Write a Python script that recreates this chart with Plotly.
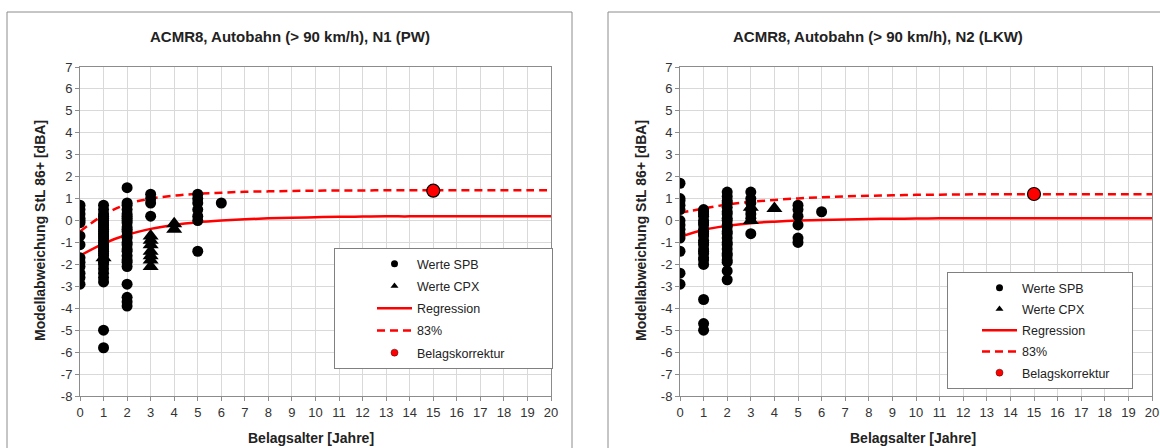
import plotly.graph_objects as go

W, H = 1160, 448

# ---------------- data ----------------
ages = list(range(0, 21))

left_spb = {
    0: [0.7, 0.5, 0.3, 0.1, 0.0, -0.1, -0.7, -1.1, -1.7, -1.9, -2.1, -2.4, -2.6, -2.9],
    1: [0.7, 0.5, 0.3, 0.2, 0.1, 0.0, -0.1, -0.2, -0.3, -0.4, -0.5, -0.6, -0.7, -0.8, -0.9, -1.0,
        -1.1, -1.2, -1.3, -1.4, -1.5, -1.6, -1.8, -1.9, -2.0, -2.2, -2.4, -2.6, -2.8, -5.0, -5.8],
    2: [1.5, 0.8, 0.7, 0.5, 0.3, 0.2, 0.1, 0.0, -0.1, -0.3, -0.4, -0.5, -0.7, -0.8, -1.0, -1.1,
        -1.3, -1.4, -1.6, -1.8, -1.9, -2.1, -2.9, -3.5, -3.7, -3.9],
    3: [1.2, 1.0, 0.8, 0.2],
    5: [1.2, 1.0, 0.8, 0.5, 0.2, 0.0, -1.4],
    6: [0.8],
}
left_cpx = {
    1: [-1.7],
    3: [-0.7, -0.9, -1.1, -1.4, -1.6, -1.8, -2.1],
    4: [-0.15, -0.4],
}
left_regression = [-1.6, -1.05, -0.65, -0.38, -0.2, -0.08, 0.0, 0.06, 0.1, 0.13, 0.15,
                   0.17, 0.18, 0.19, 0.19, 0.2, 0.2, 0.2, 0.2, 0.2, 0.2]
left_p83 = [-0.5, 0.25, 0.75, 1.0, 1.13, 1.22, 1.27, 1.31, 1.33, 1.35, 1.36,
            1.37, 1.37, 1.38, 1.38, 1.38, 1.38, 1.38, 1.38, 1.38, 1.38]
left_korr_x, left_korr_y = [15], [1.36]

right_spb = {
    0: [1.7, 1.0, 0.9, 0.7, 0.5, 0.0, -0.2, -0.4, -0.6, -0.8, -1.4, -2.4, -2.9],
    1: [0.5, 0.4, 0.3, 0.2, 0.0, -0.1, -0.2, -0.4, -0.5, -0.6, -0.7, -0.9, -1.0, -1.1, -1.3,
        -1.4, -1.5, -1.7, -1.8, -2.0, -3.6, -4.7, -5.0],
    2: [1.3, 1.1, 0.9, 0.8, 0.6, 0.4, 0.3, 0.1, 0.0, -0.2, -0.3, -0.5, -0.6, -0.8, -1.0, -1.1,
        -1.3, -1.5, -1.6, -1.8, -1.9, -2.3, -2.7],
    3: [1.3, 1.0, 0.8, 0.5, 0.3, 0.1, -0.6],
    5: [0.7, 0.5, 0.2, -0.2, -0.8, -1.0],
    6: [0.4],
}
right_cpx = {
    3: [0.6, 0.0],
    4: [0.55],
}
right_regression = [-0.75, -0.42, -0.24, -0.12, -0.05, 0.0, 0.03, 0.05, 0.07, 0.08, 0.09,
                    0.1, 0.1, 0.1, 0.1, 0.1, 0.1, 0.1, 0.1, 0.1, 0.1]
right_p83 = [0.35, 0.55, 0.73, 0.85, 0.94, 1.01, 1.06, 1.1, 1.13, 1.15, 1.17,
             1.18, 1.19, 1.2, 1.2, 1.2, 1.2, 1.2, 1.2, 1.2, 1.2]
right_korr_x, right_korr_y = [15], [1.21]

titles = ["ACMR8, Autobahn (> 90 km/h), N1 (PW)", "ACMR8, Autobahn (> 90 km/h), N2 (LKW)"]
x_title = "Belagsalter [Jahre]"
y_title = "Modellabweichung StL 86+ [dBA]"
x_ticks = list(range(0, 21))
y_ticks = list(range(-8, 8))
y_ticktext = [str(v) for v in y_ticks]
legend_names = ["Werte SPB", "Werte CPX", "Regression", "83%", "Belagskorrektur"]


def flatten(d):
    xs, ys = [], []
    for k, vals in d.items():
        for v in vals:
            xs.append(k)
            ys.append(v)
    return xs, ys


FONT = "Liberation Sans, Arial, sans-serif"
RED = "#ff0000"
DASH = "8px,5px"
fig = go.Figure()

panels = [
    dict(spb=left_spb, cpx=left_cpx, reg=left_regression, p83=left_p83,
         kx=left_korr_x, ky=left_korr_y, xa="x", ya="y", leg="legend", pad=12),
    dict(spb=right_spb, cpx=right_cpx, reg=right_regression, p83=right_p83,
         kx=right_korr_x, ky=right_korr_y, xa="x2", ya="y2", leg="legend2", pad=5),
]

for i, p in enumerate(panels):
    sx, sy = flatten(p["spb"])
    cx, cy = flatten(p["cpx"])
    common = dict(xaxis=p["xa"], yaxis=p["ya"], showlegend=False)
    fig.add_trace(go.Scatter(x=ages, y=p["reg"], mode="lines", name=legend_names[2],
                             line_shape="spline", line=dict(color=RED, width=2.5), **common))
    fig.add_trace(go.Scatter(x=ages, y=p["p83"], mode="lines", name=legend_names[3],
                             line_shape="spline", line=dict(color=RED, width=2.5, dash=DASH), **common))
    fig.add_trace(go.Scatter(x=sx, y=sy, mode="markers", name=legend_names[0],
                             marker=dict(symbol="circle", size=11, color="black"), **common))
    fig.add_trace(go.Scatter(x=cx, y=cy, mode="markers", name=legend_names[1],
                             marker=dict(symbol="triangle-up", size=14, color="black"), **common))
    fig.add_trace(go.Scatter(x=p["kx"], y=p["ky"], mode="markers", name=legend_names[4],
                             marker=dict(symbol="circle", size=13, color=RED,
                                         line=dict(color="black", width=1.2)), **common))

    # legend entries (small symbols as in the original legend)
    lc = dict(xaxis=p["xa"], yaxis=p["ya"], legend=p["leg"], x=[None], y=[None])
    fig.add_trace(go.Scatter(mode="markers", name=legend_names[0], legendgroup=f"a{i}",
                             marker=dict(symbol="circle", size=7, color="black"), **lc))
    fig.add_trace(go.Scatter(mode="markers", name=legend_names[1], legendgroup=f"b{i}",
                             marker=dict(symbol="triangle-up", size=7, color="black"), **lc))
    fig.add_trace(go.Scatter(mode="lines", name=legend_names[2], legendgroup=f"c{i}",
                             line=dict(color=RED, width=2.5), **lc))
    fig.add_trace(go.Scatter(mode="lines", name=legend_names[3], legendgroup=f"d{i}",
                             line=dict(color=RED, width=2.5, dash=DASH), **lc))
    fig.add_trace(go.Scatter(mode="markers", name=legend_names[4] + "\u00a0" * p["pad"],
                             legendgroup=f"e{i}",
                             marker=dict(symbol="circle", size=7, color=RED,
                                         line=dict(color="#400000", width=0.5)), **lc))


def px(v):
    return v / W


def py(v):
    return 1 - v / H


axis_common = dict(
    showgrid=True, gridcolor="#d9d9d9", gridwidth=1,
    showline=True, linecolor="#8c8c8c", linewidth=1, mirror=True,
    ticks="outside", ticklen=4, tickcolor="#8c8c8c",
    zeroline=False,
    tickfont=dict(family=FONT, size=13, color="#333333"),
)

ydom = [py(396), py(67)]
fig.update_layout(
    width=W, height=H,
    margin=dict(l=0, r=0, t=0, b=0, autoexpand=False),
    paper_bgcolor="white", plot_bgcolor="white",
    font=dict(family=FONT, color="#222222"),
    xaxis=dict(domain=[px(80), px(551)], range=[0, 20], tickvals=x_ticks, anchor="y", **axis_common),
    yaxis=dict(domain=ydom, range=[-8, 7], tickvals=y_ticks, ticktext=y_ticktext, anchor="x", **axis_common),
    xaxis2=dict(domain=[px(680), px(1152)], range=[0, 20], tickvals=x_ticks, anchor="y2", **axis_common),
    yaxis2=dict(domain=ydom, range=[-8, 7], tickvals=y_ticks, ticktext=y_ticktext, anchor="x2", **axis_common),
    showlegend=True,
)

legend_common = dict(
    xanchor="left", yanchor="top",
    bgcolor="white", bordercolor="#808080", borderwidth=1,
    font=dict(family=FONT, size=12.5, color="#222222"),
    itemsizing="trace", itemwidth=35,
    traceorder="grouped",
)
fig.update_layout(
    legend=dict(x=px(334), y=py(248), tracegroupgap=3, indentation=37, **legend_common),
    legend2=dict(x=px(947), y=py(272), tracegroupgap=2, indentation=29, **legend_common),
)

# chart frames
fig.add_shape(type="rect", xref="paper", yref="paper",
              x0=px(7), x1=px(572), y0=-0.2, y1=py(12),
              line=dict(color="#8c8c8c", width=1), layer="below")
fig.add_shape(type="rect", xref="paper", yref="paper",
              x0=px(608), x1=1.2, y0=-0.2, y1=py(12),
              line=dict(color="#8c8c8c", width=1), layer="below")

# titles and axis titles
for tx, xtx, ylab_x, t in [(290, 311, 40, titles[0]), (878, 913, 641, titles[1])]:
    fig.add_annotation(x=px(tx), y=py(37), xref="paper", yref="paper",
                       xanchor="center", yanchor="middle",
                       text=f"<b>{t}</b>", showarrow=False,
                       font=dict(family=FONT, size=15, color="#222222"))
    fig.add_annotation(x=px(xtx), y=py(438), xref="paper", yref="paper",
                       xanchor="center", yanchor="middle",
                       text=f"<b>{x_title}</b>", showarrow=False,
                       font=dict(family=FONT, size=14, color="#222222"))
    fig.add_annotation(x=px(ylab_x), y=py(231), xref="paper", yref="paper",
                       xanchor="center", yanchor="middle",
                       text=f"<b>{y_title}</b>", showarrow=False, textangle=-90,
                       font=dict(family=FONT, size=14, color="#222222"))

fig.write_html("out.html")
